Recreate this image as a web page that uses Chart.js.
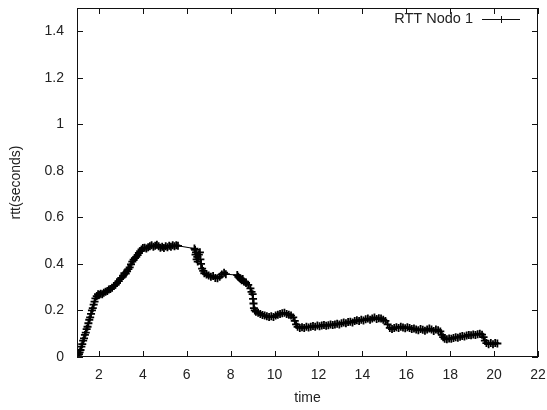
<!DOCTYPE html>
<html>
<head>
<meta charset="utf-8">
<script src="https://cdn.jsdelivr.net/npm/chart.js@4"></script>
<style>
  html, body { margin: 0; padding: 0; background: #fff; }
  #wrap { width: 547px; height: 410px; }
</style>
</head>
<body>
<div id="wrap"><canvas id="rtt-chart" width="547" height="410"></canvas></div>
<script>
// series name and axis text
var seriesLabel = "RTT Nodo 1";
var xTitle = "time";
var yTitle = "rtt(seconds)";

// tick labels
var xTickValues = [2, 4, 6, 8, 10, 12, 14, 16, 18, 20, 22];
var yTickValues = [0, 0.2, 0.4, 0.6, 0.8, 1, 1.2, 1.4];

// samples (time, rtt)
var rttTimes = [
  1.06, 1.09, 1.12, 1.16, 1.2, 1.24, 1.28, 1.32, 1.36, 1.4, 1.44, 1.48, 1.52, 1.56, 1.6, 1.64, 1.68, 1.72, 1.76, 1.8, 1.84,
  1.9, 1.96, 2.02, 2.08, 2.15, 2.22, 2.3, 2.38, 2.45, 2.52, 2.6, 2.68, 2.75, 2.82, 2.9, 2.96, 3.02, 3.1, 3.16, 3.22, 3.28,
  3.34, 3.4, 3.46, 3.52, 3.58, 3.64, 3.7, 3.76, 3.82, 3.88, 3.94, 4.0, 4.08, 4.16, 4.24, 4.32, 4.4, 4.48, 4.56, 4.64, 4.72,
  4.8, 4.88, 4.96, 5.04, 5.12, 5.2, 5.28, 5.36, 5.44, 5.52, 5.6,
  6.35, 6.38, 6.4, 6.42, 6.45, 6.48, 6.5, 6.55, 6.6, 6.62, 6.65, 6.7, 6.75, 6.8, 6.9, 7.0, 7.1, 7.2, 7.3, 7.4, 7.5, 7.6,
  7.7, 7.78,
  8.3, 8.35, 8.4, 8.45, 8.5, 8.55, 8.6, 8.7, 8.8, 8.9, 8.95, 9.0, 9.02, 9.04, 9.06, 9.1, 9.15, 9.25, 9.35, 9.45, 9.55,
  9.65, 9.75, 9.85, 9.95, 10.05, 10.15, 10.25, 10.35, 10.45, 10.55, 10.65, 10.75, 10.85, 10.92, 10.98, 11.05, 11.15,
  11.25, 11.35, 11.45, 11.55, 11.65, 11.75, 11.85, 11.95, 12.05, 12.15, 12.25, 12.35, 12.45, 12.55, 12.65, 12.75, 12.85,
  12.95, 13.05, 13.15, 13.25, 13.35, 13.45, 13.55, 13.65, 13.75, 13.85, 13.95, 14.05, 14.15, 14.25, 14.35, 14.45, 14.55,
  14.65, 14.75, 14.85, 14.95, 15.05, 15.15, 15.25, 15.35, 15.45, 15.55, 15.65, 15.75, 15.85, 15.95, 16.05, 16.15, 16.25,
  16.35, 16.45, 16.55, 16.65, 16.75, 16.85, 16.95, 17.05, 17.15, 17.25, 17.35, 17.45, 17.55, 17.62, 17.68, 17.75, 17.85,
  17.95, 18.05, 18.15, 18.25, 18.35, 18.45, 18.55, 18.65, 18.75, 18.85, 18.95, 19.05, 19.15, 19.25, 19.35, 19.45, 19.52,
  19.58, 19.65, 19.75, 19.85, 19.95, 20.05, 20.15
];
var rttValues = [
  0.004, 0.012, 0.02, 0.03, 0.045, 0.055, 0.07, 0.08, 0.095, 0.105, 0.12, 0.13, 0.145, 0.16, 0.17, 0.185, 0.2, 0.21, 0.225, 0.238, 0.252,
  0.262, 0.27, 0.268, 0.272, 0.27, 0.276, 0.28, 0.284, 0.29, 0.292, 0.298, 0.305, 0.31, 0.318, 0.326, 0.335, 0.34, 0.35, 0.36, 0.358, 0.368,
  0.378, 0.385, 0.398, 0.41, 0.418, 0.425, 0.43, 0.438, 0.447, 0.455, 0.462, 0.468, 0.47, 0.466, 0.472, 0.476, 0.48, 0.474, 0.478, 0.482, 0.476,
  0.47, 0.474, 0.468, 0.476, 0.472, 0.478, 0.474, 0.48, 0.476, 0.48, 0.478,
  0.466, 0.46, 0.44, 0.45, 0.42, 0.43, 0.41, 0.44, 0.45, 0.42, 0.4, 0.38, 0.37, 0.36, 0.355, 0.35, 0.345, 0.348, 0.34, 0.338, 0.345, 0.355,
  0.362, 0.356,
  0.352, 0.345, 0.34, 0.335, 0.33, 0.335, 0.325, 0.318, 0.31, 0.295, 0.28, 0.27, 0.25, 0.23, 0.21, 0.2, 0.195, 0.19, 0.185, 0.18, 0.178,
  0.175, 0.172, 0.175, 0.172, 0.178, 0.182, 0.185, 0.188, 0.19, 0.185, 0.182, 0.178, 0.17, 0.155, 0.14, 0.13, 0.125,
  0.128, 0.125, 0.13, 0.127, 0.13, 0.133, 0.13, 0.135, 0.132, 0.135, 0.138, 0.134, 0.136, 0.14, 0.137, 0.14, 0.143,
  0.14, 0.145, 0.148, 0.145, 0.15, 0.152, 0.148, 0.155, 0.158, 0.155, 0.16, 0.157, 0.162, 0.165, 0.16, 0.165, 0.17,
  0.163, 0.167, 0.165, 0.16, 0.155, 0.14, 0.125, 0.12, 0.125, 0.128, 0.125, 0.13, 0.127, 0.124, 0.128, 0.125, 0.12,
  0.123, 0.118, 0.115, 0.12, 0.117, 0.113, 0.118, 0.122, 0.118, 0.112, 0.118, 0.115, 0.11, 0.095, 0.085, 0.078, 0.076,
  0.08, 0.078, 0.082, 0.085, 0.083, 0.087, 0.09, 0.088, 0.092, 0.095, 0.093, 0.097, 0.095, 0.098, 0.1, 0.096, 0.085,
  0.07, 0.06, 0.055, 0.06, 0.055, 0.06, 0.058
];

var textColor = "#222";
var fontFamily = "'Liberation Sans', Arial, sans-serif";

var points = [];
for (var i = 0; i < rttTimes.length; i++) {
  points.push({ x: rttTimes[i], y: rttValues[i] });
}

// kill the automatic label padding so the plot box lands where layout.padding says
function noPad(s) {
  s.paddingTop = 0;
  s.paddingBottom = 0;
  s.paddingLeft = 0;
  s.paddingRight = 0;
}

// gnuplot style frame, inward ticks on all sides and the key in the corner
var framePlugin = {
  id: "frame",
  afterDatasetsDraw: function (chart) {
    var ctx = chart.ctx;
    var a = chart.chartArea;
    var xs = chart.scales.x;
    var ys = chart.scales.y;
    var tick = 6;
    ctx.save();
    ctx.strokeStyle = "#111";
    ctx.lineWidth = 1;
    ctx.strokeRect(a.left + 0.5, a.top + 0.5, a.right - a.left - 1, a.bottom - a.top - 1);
    ctx.beginPath();
    xTickValues.forEach(function (v) {
      var px = Math.round(xs.getPixelForValue(v)) + 0.5;
      ctx.moveTo(px, a.bottom);
      ctx.lineTo(px, a.bottom - tick);
      ctx.moveTo(px, a.top);
      ctx.lineTo(px, a.top + tick);
    });
    yTickValues.forEach(function (v) {
      var py = Math.round(ys.getPixelForValue(v)) + 0.5;
      ctx.moveTo(a.left, py);
      ctx.lineTo(a.left + tick, py);
      ctx.moveTo(a.right, py);
      ctx.lineTo(a.right - tick, py);
    });
    ctx.stroke();

    // key
    var ky = 19;
    ctx.fillStyle = textColor;
    ctx.font = "14.5px " + fontFamily;
    ctx.textAlign = "right";
    ctx.textBaseline = "middle";
    ctx.fillText(seriesLabel, 473, ky);
    ctx.beginPath();
    ctx.moveTo(482, ky + 0.5);
    ctx.lineTo(520, ky + 0.5);
    ctx.moveTo(501.5, ky - 3);
    ctx.lineTo(501.5, ky + 4);
    ctx.stroke();
    ctx.restore();
  },
};

var rttChart = new Chart(document.getElementById("rtt-chart").getContext("2d"), {
  type: "scatter",
  data: {
    datasets: [
      {
        label: seriesLabel,
        data: points,
        showLine: true,
        borderColor: "#000",
        backgroundColor: "#000",
        borderWidth: 1,
        pointStyle: "cross",
        pointRadius: 4,
        pointBorderWidth: 1.8,
        pointBorderColor: "#000",
      },
    ],
  },
  options: {
    responsive: false,
    animation: false,
    layout: { padding: { top: 8, right: 9, left: 0, bottom: 0 } },
    plugins: {
      legend: { display: false },
      tooltip: { enabled: false },
    },
    scales: {
      x: {
        type: "linear",
        min: 1,
        max: 22,
        grid: { display: false, drawTicks: false, tickLength: 0 },
        border: { display: false },
        afterBuildTicks: function (s) {
          s.ticks = xTickValues.map(function (v) { return { value: v }; });
        },
        afterFit: function (s) { s.height = 53; noPad(s); },
        ticks: {
          color: textColor,
          font: { family: fontFamily, size: 14 },
          padding: 10,
          maxRotation: 0,
          autoSkip: false,
        },
        title: {
          display: true,
          text: xTitle,
          color: textColor,
          font: { family: fontFamily, size: 14 },
          padding: { top: 0, bottom: 3 },
        },
      },
      y: {
        type: "linear",
        min: 0,
        max: 1.5,
        grid: { display: false, drawTicks: false, tickLength: 0 },
        border: { display: false },
        afterBuildTicks: function (s) {
          s.ticks = yTickValues.map(function (v) { return { value: v }; });
        },
        afterFit: function (s) { s.width = 77; noPad(s); },
        ticks: {
          color: textColor,
          font: { family: fontFamily, size: 14 },
          padding: 13,
          autoSkip: false,
          callback: function (v) { return String(Math.round(v * 10) / 10); },
        },
        title: {
          display: true,
          text: yTitle,
          color: textColor,
          font: { family: fontFamily, size: 14 },
          padding: { top: 8, bottom: 0 },
        },
      },
    },
  },
  plugins: [framePlugin],
});
</script>
</body>
</html>
